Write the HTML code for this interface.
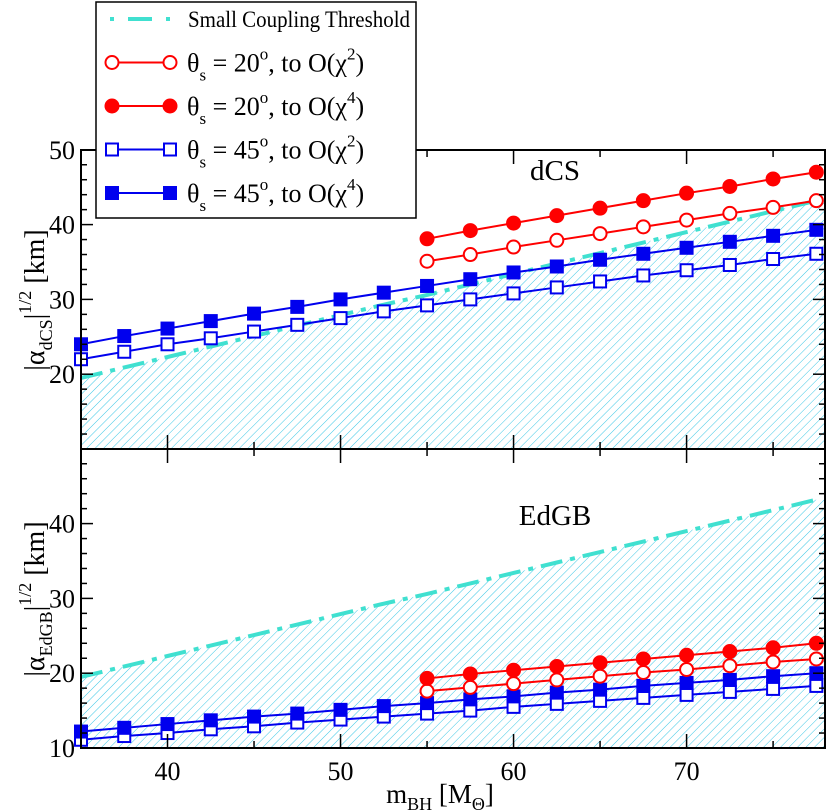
<!DOCTYPE html>
<html><head><meta charset="utf-8">
<style>
html,body{margin:0;padding:0;background:#fff;}
svg{display:block;font-family:"Liberation Serif",serif;}
</style></head>
<body>
<svg id="chart" width="830" height="811" viewBox="0 0 830 811" xmlns="http://www.w3.org/2000/svg">
<defs>
<pattern id="hatch" patternUnits="userSpaceOnUse" width="6" height="6" patternTransform="rotate(45)">
<line x1="0" y1="0" x2="0" y2="6" stroke="#3cc8e6" stroke-width="1"/>
</pattern>
<clipPath id="clipTop"><rect x="81" y="150" width="744" height="299"/></clipPath>
<clipPath id="clipBot"><rect x="81" y="449" width="744" height="299"/></clipPath>
</defs>
<g id="plots"></g>
</svg>
<script>
const masses = [35,37.5,40,42.5,45,47.5,50,52.5,55,57.5,60,62.5,65,67.5,70,72.5,75,77.5];
const redMasses = [55,57.5,60,62.5,65,67.5,70,72.5,75,77.5];
const threshold = [19.5,20.9,22.3,23.7,25.1,26.5,27.9,29.3,30.6,32.0,33.4,34.8,36.2,37.6,39.0,40.4,41.8,43.2];
const dcsBlueO4 = [24,25.1,26.1,27.1,28.1,29.0,30.0,30.9,31.8,32.7,33.6,34.4,35.3,36.1,36.9,37.7,38.5,39.3];
const dcsBlueO2 = [22,23,24,24.8,25.7,26.6,27.5,28.4,29.2,30.0,30.8,31.6,32.4,33.2,33.9,34.6,35.4,36.1];
const dcsRedO4 = [38.1,39.2,40.2,41.2,42.2,43.2,44.2,45.1,46.1,47.0];
const dcsRedO2 = [35.1,36.0,37.0,37.9,38.8,39.7,40.6,41.5,42.3,43.2];
const gbBlueO4 = [12.2,12.7,13.2,13.7,14.2,14.6,15.1,15.6,16.0,16.5,16.9,17.4,17.8,18.3,18.7,19.1,19.6,20.0];
const gbBlueO2 = [11.1,11.6,12.0,12.5,12.9,13.4,13.8,14.2,14.6,15.0,15.5,15.9,16.3,16.7,17.1,17.5,17.9,18.3];
const gbRedO4 = [19.3,19.9,20.4,20.9,21.4,21.9,22.4,22.9,23.4,24.0];
const gbRedO2 = [17.6,18.1,18.6,19.1,19.6,20.1,20.5,21.0,21.5,21.9];
const xTicks = [40,50,60,70];
const yTicksTop = [20,30,40,50];
const yTicksBot = [10,20,30,40];

const NS="http://www.w3.org/2000/svg";
const root=document.getElementById('plots');
const X0=81,X1=825,XMIN=35,XMAX=78;
const sx=v=>X0+(v-XMIN)/(XMAX-XMIN)*(X1-X0);
function mkY(bottom){return v=>bottom-(v-10)*7.48;}
function el(tag,attrs,parent){const e=document.createElementNS(NS,tag);for(const k in attrs)e.setAttribute(k,attrs[k]);(parent||root).appendChild(e);return e;}

function panel(key,bottom,clip,thr,series,label,yTicks,sub){
  const sy=mkY(bottom);const top=bottom-299;
  const g=el('g',{});
  
  
  let d='M'+sx(masses[0])+','+bottom;
  masses.forEach((m,i)=>{d+=' L'+sx(m)+','+sy(thr[i]);});
  d+=' L'+X1+','+sy(thr[thr.length-1])+' L'+X1+','+bottom+' Z';
  const h=el('path',{d:d,fill:'url(#hatch)','clip-path':'url(#'+clip+')'},g);
  
  
  const tl=el('polyline',{points:masses.map((m,i)=>sx(m)+','+sy(thr[i])).join(' '),fill:'none',stroke:'#40e0d0','stroke-width':4,'stroke-dasharray':'22,8,5,8','clip-path':'url(#'+clip+')'},g);
  
  
  series.forEach(s=>{
    const sg=el('g',{},g);
    
    
    el('polyline',{points:s.xs.map((m,i)=>sx(m)+','+sy(s.ys[i])).join(' '),fill:'none',stroke:s.color,'stroke-width':2,'clip-path':'url(#'+clip+')'},sg);
    s.xs.forEach((m,i)=>{
      let mk;
      if(s.shape==='circle') mk=el('circle',{cx:sx(m),cy:sy(s.ys[i]),r:6.5,fill:s.filled?s.color:'#fff',stroke:s.color,'stroke-width':2},sg);
      else mk=el('rect',{x:sx(m)-6,y:sy(s.ys[i])-6,width:12,height:12,fill:s.filled?s.color:'#fff',stroke:s.color,'stroke-width':2},sg);
      
      
    });
  });
  const fr=el('rect',{x:X0,y:top,width:X1-X0,height:299,fill:'none',stroke:'#000','stroke-width':2},g);
  
  
  for(let v=10;v<=50;v+=2){
    const y=sy(v);if(y<top-0.5||y>bottom+0.5)continue;
    const major=v%10===0;const L=major?12:6;
    el('line',{x1:X0,y1:y,x2:X0+L,y2:y,stroke:'#000','stroke-width':1.5},g);
    el('line',{x1:X1,y1:y,x2:X1-L,y2:y,stroke:'#000','stroke-width':1.5},g);
  }
  yTicks.forEach(v=>{
    const t=el('text',{x:X0-6,y:sy(v)+9,'text-anchor':'end','font-size':26},g);
    t.textContent=v;
    
    
  });
  xTicks.forEach(v=>{
    el('line',{x1:sx(v),y1:bottom,x2:sx(v),y2:bottom-14,stroke:'#000','stroke-width':1.5},g);
    el('line',{x1:sx(v),y1:top,x2:sx(v),y2:top+14,stroke:'#000','stroke-width':1.5},g);
  });
  for(let v=35;v<=78;v+=5){ if(v%10===0)continue;
    el('line',{x1:sx(v),y1:bottom,x2:sx(v),y2:bottom-7,stroke:'#000','stroke-width':1.5},g);
    el('line',{x1:sx(v),y1:top,x2:sx(v),y2:top+7,stroke:'#000','stroke-width':1.5},g);
  }
  const lb=el('text',{x:label.x,y:label.y,'text-anchor':'middle','font-size':29},g);
  lb.textContent=label.text;
  
  
  const yl=el('text',{transform:'translate(44,'+(top+150)+') rotate(-90)','text-anchor':'middle','font-size':28},g);
  
  
  yl.innerHTML='|α<tspan font-size="18" dy="8">'+sub+'</tspan><tspan dy="-8">|</tspan><tspan font-size="18" dy="-13">1/2</tspan><tspan dy="13"> [km]</tspan>';
}

panel('dcs',449,'clipTop',threshold,[
 {name:'theta45-o2',xs:masses,ys:dcsBlueO2,color:'#0000ee',shape:'rect',filled:false},
 {name:'theta45-o4',xs:masses,ys:dcsBlueO4,color:'#0000ee',shape:'rect',filled:true},
 {name:'theta20-o2',xs:redMasses,ys:dcsRedO2,color:'#ff0000',shape:'circle',filled:false},
 {name:'theta20-o4',xs:redMasses,ys:dcsRedO4,color:'#ff0000',shape:'circle',filled:true}
],{x:555,y:180,text:'dCS'},yTicksTop,'dCS');

panel('edgb',748,'clipBot',threshold,[
 {name:'theta45-o2',xs:masses,ys:gbBlueO2,color:'#0000ee',shape:'rect',filled:false},
 {name:'theta45-o4',xs:masses,ys:gbBlueO4,color:'#0000ee',shape:'rect',filled:true},
 {name:'theta20-o2',xs:redMasses,ys:gbRedO2,color:'#ff0000',shape:'circle',filled:false},
 {name:'theta20-o4',xs:redMasses,ys:gbRedO4,color:'#ff0000',shape:'circle',filled:true}
],{x:555,y:525,text:'EdGB'},yTicksBot,'EdGB');

xTicks.forEach(v=>{
  const t=el('text',{x:sx(v),y:780,'text-anchor':'middle','font-size':26});
  t.textContent=v;
  
  
});
const xt=el('text',{x:440,y:803,'text-anchor':'middle','font-size':27});


xt.innerHTML='m<tspan font-size="18" dy="7">BH</tspan><tspan dy="-7"> [M</tspan><tspan font-size="18" dy="7">Θ</tspan><tspan dy="-7">]</tspan>';

const lg=el('g',{});


el('rect',{x:96,y:2,width:320,height:216,fill:'#fff',stroke:'#000','stroke-width':1.5},lg);
const entries=[
 {t:'Small Coupling Threshold',type:'thr'},
 {t:'20',c:'#ff0000',shape:'circle',f:false,p:2},
 {t:'20',c:'#ff0000',shape:'circle',f:true,p:4},
 {t:'45',c:'#0000ee',shape:'rect',f:false,p:2},
 {t:'45',c:'#0000ee',shape:'rect',f:true,p:4}];
entries.forEach((e,i)=>{
  const y=19+i*43.5;
  const g=el('g',{},lg);
  
  
  if(e.type==='thr'){
    el('line',{x1:110,y1:y,x2:170,y2:y,stroke:'#40e0d0','stroke-width':4,'stroke-dasharray':'4,14,24,14,4,50'},g);
    const t=el('text',{x:188,y:y+8,'font-size':23,textLength:222,lengthAdjust:'spacingAndGlyphs'},g);t.textContent=e.t;
  } else {
    el('line',{x1:112,y1:y,x2:170,y2:y,stroke:e.c,'stroke-width':2},g);
    [112,170].forEach(x=>{
      if(e.shape==='circle') el('circle',{cx:x,cy:y,r:6.5,fill:e.f?e.c:'#fff',stroke:e.c,'stroke-width':2},g);
      else el('rect',{x:x-6,y:y-6,width:12,height:12,fill:e.f?e.c:'#fff',stroke:e.c,'stroke-width':2},g);
    });
    const t=el('text',{x:187,y:y+9,'font-size':26},g);
    t.innerHTML='θ<tspan font-size="17" dy="9">s</tspan><tspan dy="-9"> = '+e.t+'</tspan><tspan font-size="17" dy="-12">o</tspan><tspan dy="12">, to O(χ</tspan><tspan font-size="17" dy="-12">'+e.p+'</tspan><tspan dy="12">)</tspan>';
  }
});
</script>
</body></html>
